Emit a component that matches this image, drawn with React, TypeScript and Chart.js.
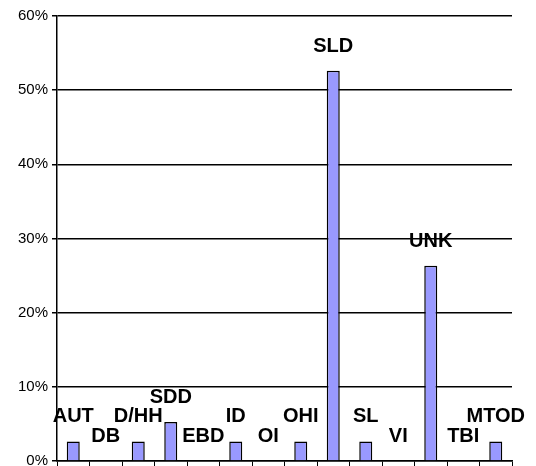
import React, { useEffect, useRef } from "react";
import { Chart, registerables } from "chart.js";

Chart.register(...registerables);

const categories = ["AUT", "DB", "D/HH", "SDD", "EBD", "ID", "OI", "OHI", "SLD", "SL", "VI", "UNK", "TBI", "MTOD"];
const values = [2.63, 0, 2.63, 5.26, 0, 2.63, 0, 2.63, 52.63, 2.63, 0, 26.32, 0, 2.63];
const yMax = 60;
const yStep = 10;

const labelPlugin = {
  id: "catLabels",
  afterDatasetsDraw(chart: any) {
    const ctx = chart.ctx;
    const meta = chart.getDatasetMeta(0);
    ctx.save();
    ctx.font = "bold 20px 'Liberation Sans', Arial, sans-serif";
    ctx.fillStyle = "#000";
    ctx.textAlign = "center";
    ctx.textBaseline = "alphabetic";
    meta.data.forEach((bar: any, i: number) => {
      ctx.fillText(categories[i], bar.x, bar.y - 19);
    });
    ctx.restore();
  },
};

export default function App() {
  const ref = useRef<HTMLCanvasElement>(null);
  useEffect(() => {
    if (!ref.current) return;
    const chart = new Chart(ref.current, {
      type: "bar",
      data: {
        labels: categories,
        datasets: [
          {
            data: values,
            backgroundColor: "#9999ff",
            borderColor: "#000",
            borderWidth: 1.5,
            categoryPercentage: 1,
            barPercentage: 0.4,
          },
        ],
      },
      options: {
        responsive: false,
        animation: false,
        layout: { padding: { top: 16, right: 24, left: 0, bottom: 0 } },
        plugins: { legend: { display: false }, tooltip: { enabled: false } },
        scales: {
          x: {
            offset: true,
            grid: {
              display: true,
              offset: true,
              drawOnChartArea: false,
              drawTicks: true,
              tickLength: 5,
              color: "#000",
              lineWidth: 1,
            },
            border: { display: true, color: "#000", width: 1.5 },
            ticks: { display: false },
            afterFit(scale: any) {
              scale.height = 5;
              scale.paddingLeft = 0;
              scale.paddingRight = 0;
            },
          },
          y: {
            min: 0,
            max: yMax,
            ticks: {
              stepSize: yStep,
              color: "#000",
              padding: 4,
              font: { family: "'Liberation Sans', Arial, sans-serif", size: 15 },
              callback: (v: any) => v + "%",
            },
            grid: { color: "#000", lineWidth: 1.5, tickLength: 5 },
            border: { display: true, color: "#000", width: 1.5 },
            afterFit(scale: any) {
              scale.width = 57;
              scale.paddingTop = 0;
              scale.paddingBottom = 0;
            },
          },
        },
      },
      plugins: [labelPlugin],
    });
    return () => chart.destroy();
  }, []);
  return (
    <div style={{ position: "absolute", left: 0, top: 0, width: 536, height: 466, background: "#fff" }}>
      <canvas ref={ref} width={536} height={466} style={{ display: "block" }} />
    </div>
  );
}
